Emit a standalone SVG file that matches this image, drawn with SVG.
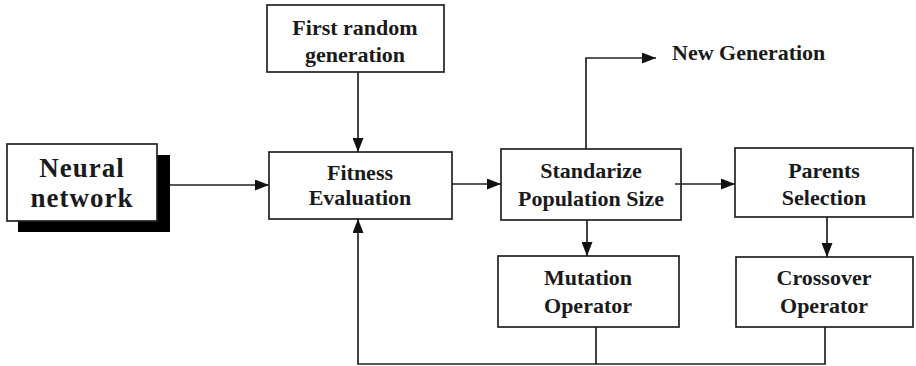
<svg xmlns="http://www.w3.org/2000/svg" width="916" height="366" viewBox="0 0 916 366">
<style>
.box{fill:#fff;stroke:#222;stroke-width:1.7}
.t{font-family:"Liberation Serif","Times New Roman",serif;font-weight:bold;font-size:22px;fill:#1a1a1a;text-anchor:middle}
.big{font-size:27px;letter-spacing:1px}
.ln{fill:none;stroke:#222;stroke-width:1.7}
</style>
<defs>
<marker id="ah" viewBox="0 0 14 11" refX="14" refY="5.5" markerWidth="14" markerHeight="11" markerUnits="userSpaceOnUse" orient="auto">
<path d="M0,0 L14,5.5 L0,11 Z" fill="#111"/>
</marker>
</defs>
<g id="neural">
<rect x="18" y="155" width="152" height="77" fill="#000"/>
<rect class="box" x="7" y="144" width="150" height="77"/>
<text class="t big" x="82" y="177">Neural</text>
<text class="t big" x="82" y="207">network</text>
</g>
<g id="first">
<rect class="box" x="267" y="5" width="177" height="67"/>
<text class="t" x="355" y="35">First random</text>
<text class="t" x="355" y="62">generation</text>
</g>
<g id="fitness">
<rect class="box" x="269" y="152" width="183" height="67"/>
<text class="t" x="360" y="180">Fitness</text>
<text class="t" x="360" y="205">Evaluation</text>
</g>
<g id="standardize">
<rect class="box" x="501" y="149" width="180" height="71"/>
<text class="t" x="591" y="178">Standarize</text>
<text class="t" x="591" y="206">Population Size</text>
</g>
<g id="parents">
<rect class="box" x="735" y="148" width="178" height="69"/>
<text class="t" x="824" y="178">Parents</text>
<text class="t" x="824" y="205">Selection</text>
</g>
<g id="mutation">
<rect class="box" x="498" y="256" width="181" height="71"/>
<text class="t" x="588" y="285">Mutation</text>
<text class="t" x="588" y="313">Operator</text>
</g>
<g id="crossover">
<rect class="box" x="736" y="257" width="177" height="70"/>
<text class="t" x="824" y="285">Crossover</text>
<text class="t" x="824" y="313">Operator</text>
</g>
<g id="newgen">
<text class="t" x="672" y="60" style="text-anchor:start">New Generation</text>
</g>
<g id="connectors">
<line class="ln" x1="358" y1="72" x2="358" y2="152" marker-end="url(#ah)"/>
<line class="ln" x1="170" y1="185" x2="269" y2="185" marker-end="url(#ah)"/>
<line class="ln" x1="452" y1="184" x2="501" y2="184" marker-end="url(#ah)"/>
<line class="ln" x1="675" y1="184" x2="735" y2="184" marker-end="url(#ah)"/>
<polyline class="ln" points="586,149 586,58 656,58" marker-end="url(#ah)"/>
<line class="ln" x1="587" y1="220" x2="587" y2="256" marker-end="url(#ah)"/>
<line class="ln" x1="827" y1="217" x2="827" y2="257" marker-end="url(#ah)"/>
<polyline class="ln" points="596,327 596,364"/>
<polyline class="ln" points="825,327 825,364 358,364 358,219" marker-end="url(#ah)"/>
</g>
</svg>
